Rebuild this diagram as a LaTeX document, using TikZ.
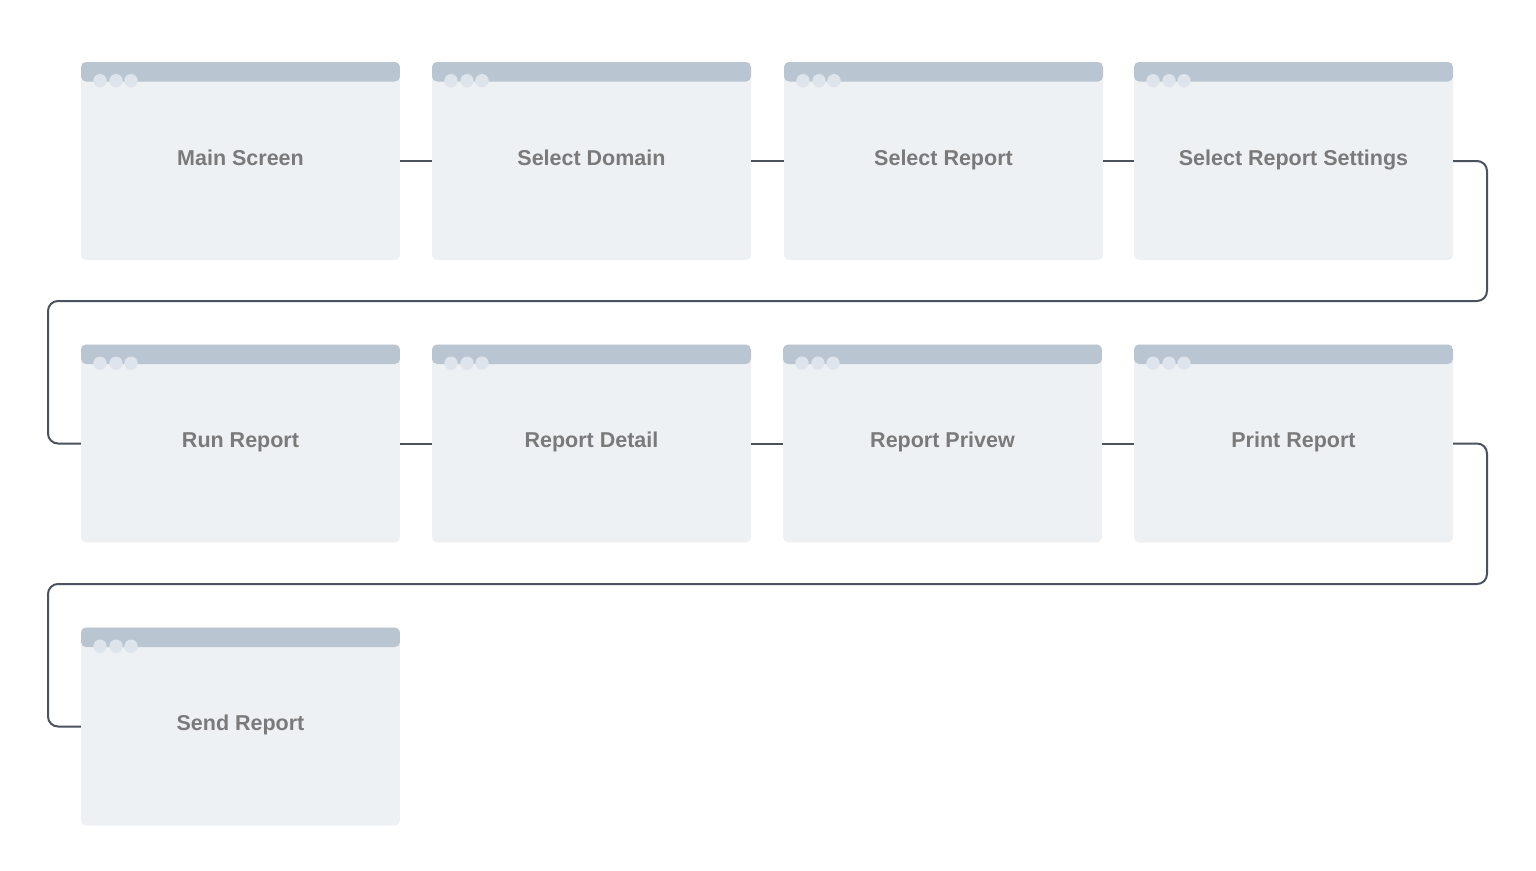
\documentclass[tikz,border=0pt]{standalone}
\usepackage{fontspec}
\setmainfont{Liberation Sans}
\definecolor{boxfill}{HTML}{EEF1F4}
\definecolor{barcol}{HTML}{B9C5D0}
\definecolor{dotcol}{HTML}{DDE4EB}
\definecolor{txtcol}{HTML}{7A7A7A}
\definecolor{linecol}{HTML}{4A525E}
\begin{document}
\begin{tikzpicture}[x=1pt,y=-1pt,
  screen/.style={rectangle, rounded corners=5pt, fill=boxfill, minimum width=319pt, minimum height=198pt, inner sep=0pt,
    text height=14pt, text depth=6pt,
    text=txtcol, font=\fontsize{21.5}{24}\selectfont\bfseries,
    path picture={
      \fill[barcol] (path picture bounding box.north west) rectangle ([yshift=-19.5pt]path picture bounding box.north east);
      \foreach \dx in {19,35,50}{
        \fill[dotcol] ([xshift=\dx pt,yshift=-18.7pt]path picture bounding box.north west) circle (6.7pt);
      }
    }},
  conn/.style={draw=linecol, line width=2pt, rounded corners=10pt}]
\useasboundingbox (0,0) rectangle (1536,870);
\node[screen] (s1) at (240.5,161) {Main Screen};
\node[screen] (s2) at (591.5,161) {Select Domain};
\node[screen] (s3) at (943.5,161) {Select Report};
\node[screen] (s4) at (1293.5,161) {Select Report Settings};
\node[screen] (s5) at (240.5,443.5) {Run Report};
\node[screen] (s6) at (591.5,443.5) {Report Detail};
\node[screen] (s7) at (942.5,443.5) {Report Privew};
\node[screen] (s8) at (1293.5,443.5) {Print Report};
\node[screen] (s9) at (240.5,726.5) {Send Report};
\coordinate (t1) at (1487,301);
\coordinate (u1) at (48,301);
\coordinate (t2) at (1487,584);
\coordinate (u2) at (48,584);
\draw[conn] (s1.east) -- (s2.west);
\draw[conn] (s2.east) -- (s3.west);
\draw[conn] (s3.east) -- (s4.west);
\draw[conn] (s4.east) -| (t1) -- (u1) |- (s5.west);
\draw[conn] (s5.east) -- (s6.west);
\draw[conn] (s6.east) -- (s7.west);
\draw[conn] (s7.east) -- (s8.west);
\draw[conn] (s8.east) -| (t2) -- (u2) |- (s9.west);
\end{tikzpicture}
\end{document}
